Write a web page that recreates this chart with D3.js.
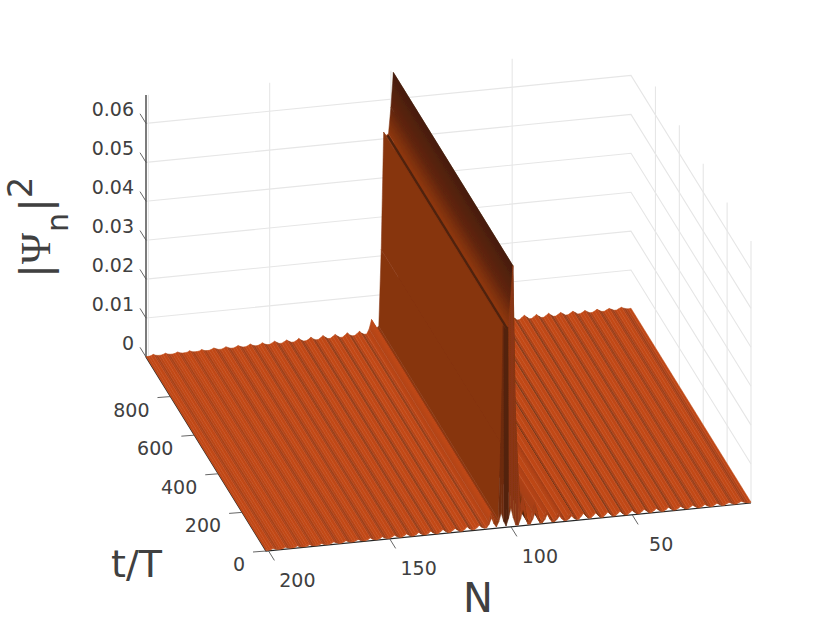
<!DOCTYPE html>
<html>
<head>
  <meta charset="utf-8">
  <title>Probability density surface</title>
  <script src="https://d3js.org/d3.v7.min.js"></script>
  <style>
    body { margin: 0; background: #fff; }
    text { font-family: "DejaVu Sans", sans-serif; fill: #404040; }
    .grid { stroke: #e6e6e6; stroke-width: 1.1px; fill: none; }
    .axis { stroke: #262626; stroke-width: 1.2px; fill: none; }
    .tick { stroke: #555; stroke-width: 0.9px; fill: none; }
  </style>
</head>
<body>
<script>
  const width = 830;
  const height = 623;

  const nTicks = [50, 100, 150, 200];
  const tTicks = [0, 200, 400, 600, 800];
  const zTicks = [0, 0.01, 0.02, 0.03, 0.04, 0.05, 0.06];
  const zTickLabels = ["0", "0.01", "0.02", "0.03", "0.04", "0.05", "0.06"];
  const nLimits = [1, 201];
  const tLimits = [0, 1005];
  const zLimits = [0, 0.0673];
  const firstStep = 4; // t of the row after the initial one
  const creaseSite = 101.4; // dark fold just behind the lower ridge

  // |psi_n|^2, one value per site N = 1..201
  const density = [
    .0002, .0001, .0002, .0004, .0007, .0004, .0001, .0001, .0004, .0007,
    .0004, .0001, .0001, .0004, .0008, .0004, .0001, .0001, .0004, .0008,
    .0004, .0001, .0001, .0005, .0009, .0005, .0001, .0001, .0005, .0009,
    .0005, .0001, .0001, .0005, .0010, .0005, .0001, .0001, .0005, .0010,
    .0005, .0001, .0001, .0006, .0011, .0006, .0001, .0001, .0006, .0011,
    .0006, .0001, .0001, .0006, .0012, .0006, .0001, .0001, .0007, .0013,
    .0007, .0001, .0001, .0007, .0014, .0008, .0002, .0002, .0008, .0016,
    .0009, .0002, .0002, .0010, .0019, .0011, .0002, .0002, .0012, .0025,
    .0014, .0003, .0003, .0017, .0032, .0019, .0004, .0004, .0030, .0055,
    .0032, .0006, .0006, .0045, .0075, .0050, .0150, .0300, .0668, .0580,
    .0512, .0508, .0517, .0216, .0020, .0016, .0026, .0039, .0015, .0003,
    .0003, .0006, .0012, .0006, .0002, .0002, .0005, .0011, .0005, .0001,
    .0001, .0005, .0010, .0005, .0001, .0001, .0005, .0010, .0005, .0001,
    .0001, .0004, .0009, .0004, .0001, .0001, .0004, .0009, .0004, .0001,
    .0001, .0004, .0008, .0004, .0001, .0001, .0004, .0008, .0004, .0001,
    .0001, .0003, .0007, .0003, .0001, .0001, .0003, .0007, .0003, .0001,
    .0001, .0003, .0006, .0003, .0001, .0001, .0003, .0006, .0003, .0001,
    .0001, .0003, .0006, .0003, .0001, .0001, .0002, .0005, .0002, .0001,
    .0001, .0002, .0005, .0002, .0001, .0001, .0002, .0005, .0002, .0001,
    .0001, .0002, .0005, .0002, .0001, .0001, .0002, .0005, .0002, .0001,
    .0001
  ];
  const sites = d3.range(1, 202);

  // initial row t = 0, where it differs from the later rows (N = 74..110)
  const initialFirstSite = 74;
  const initialDensity = [
    .0006, .0012, .0006, .0002, .0002, .0007, .0015, .0007, .0002, .0002,
    .0010, .0023, .0010, .0002, .0002, .0014, .0031, .0014, .0002, .0002,
    .0018, .0042, .0018, .0002, .0003, .0022, .0048, .0022, .0003, .0016,
    .0038, .0016, .0003, .0012, .0027, .0012, .0003
  ];

  const svg = d3.select("body")
    .append("svg")
    .attr("width", width)
    .attr("height", height);
  const defs = svg.append("defs");

  // the picture is a little soft, a slight blur keeps the stripes from looking etched
  defs.append("filter").attr("id", "soft")
    .attr("x", "-5%").attr("y", "-5%").attr("width", "110%").attr("height", "110%")
    .append("feGaussianBlur").attr("stdDeviation", 0.6);

  // orthographic view: front edge of the box plus shifts for t and z
  const frontX = d3.scaleLinear().domain(nLimits).range([751, 266]);
  const frontY = d3.scaleLinear().domain(nLimits).range([503, 551]);
  const depthX = d3.scaleLinear().domain(tLimits).range([0, -120]);
  const depthY = d3.scaleLinear().domain(tLimits).range([0, -194]);
  const rise = d3.scaleLinear().domain(zLimits).range([0, -262]);

  function project(n, t, z) {
    return [frontX(n) + depthX(t), frontY(n) + depthY(t) + rise(z)];
  }
  const line = pts => "M" + pts.map(p => p.join(",")).join("L");

  // grid on back wall and side wall
  const [nHigh, nLow] = [nLimits[1], nLimits[0]];
  const tBack = tLimits[1];
  const zTop = zLimits[1];
  const grid = svg.append("g").attr("class", "grid");
  zTicks.slice(1).forEach(z => {
    grid.append("path").attr("d", line([
      project(nHigh, tBack, z), project(nLow, tBack, z), project(nLow, 0, z)
    ]));
  });
  nTicks.forEach(n => {
    grid.append("path").attr("d", line([project(n, tBack, 0), project(n, tBack, zTop)]));
  });
  tTicks.forEach(t => {
    grid.append("path").attr("d", line([project(nLow, t, 0), project(nLow, t, zTop)]));
  });

  // axis lines and ticks
  const axes = svg.append("g");
  axes.append("path").attr("class", "axis")
    .attr("d", line([project(nHigh, tBack, zTop), project(nHigh, tBack, 0), project(nHigh, 0, 0), project(nLow, 0, 0)]));

  zTicks.forEach((z, i) => {
    const p = project(nHigh, tBack, z);
    const q = project(nHigh, tBack + 50, z);
    axes.append("path").attr("class", "tick").attr("d", line([p, q]));
    axes.append("text")
      .attr("x", p[0] - 12).attr("y", p[1] - 7)
      .attr("text-anchor", "end").attr("font-size", 19)
      .text(zTickLabels[i]);
  });
  tTicks.forEach(t => {
    const p = project(nHigh, t, 0);
    const q = [p[0] - 13, p[1] + 1];
    axes.append("path").attr("class", "tick").attr("d", line([p, q]));
    axes.append("text")
      .attr("x", p[0] - 21).attr("y", p[1] + 20)
      .attr("text-anchor", "end").attr("font-size", 19)
      .text(t);
  });
  nTicks.forEach(n => {
    const p = project(n, 0, 0);
    const q = project(n, -50, 0);
    axes.append("path").attr("class", "tick").attr("d", line([p, q]));
    axes.append("text")
      .attr("x", p[0] + 29).attr("y", p[1] + 36)
      .attr("text-anchor", "middle").attr("font-size", 19)
      .text(n);
  });

  // surface colour from the slope across N, as the lighting does it
  const shade = d3.scaleLinear()
    .domain([-.015, -.003, -.0011, -.0003, -.0001, 0, .0002, .002, .004])
    .range(["#74300f", "#552409", "#431c09", "#9a3c14", "#ad4114", "#bd4614", "#c44914", "#b04214", "#87340f"])
    .clamp(true);
  const dim = d3.scaleLinear().domain([.052, .058, .0668]).range([1, .72, .62]).clamp(true);

  function vertexColor(i) {
    const lower = density[Math.max(i - 1, 0)];
    const upper = density[Math.min(i + 1, density.length - 1)];
    const c = d3.rgb(shade((lower - upper) / 2));
    const k = dim(density[i]);
    return d3.rgb(c.r * k, c.g * k, c.b * k).formatHex();
  }

  // the jump from the initial row faces the viewer, its colour goes by site
  const curtain = d3.scaleLinear()
    .domain([74, 95, 97, 100, 101, 103.5, 104.5, 110])
    .range(["#b04214", "#a33e13", "#8a3612", "#8a3612", "#52220c", "#52220c", "#87340f", "#b04214"]);

  const initialAt = i => {
    const j = i + 1 - initialFirstSite;
    return j >= 0 && j < initialDensity.length ? initialDensity[j] : density[i];
  };

  // strips are painted far to near, the viewer sits on the high N side
  const len = Math.hypot(120, 194);
  const across = [194 / len, -120 / len];
  const surface = svg.append("g").attr("filter", "url(#soft)");

  function addStrip(id, a0, b0, a1, b1, c0, c1) {
    const d = (b0[0] - a0[0]) * across[0] + (b0[1] - a0[1]) * across[1];
    const g = defs.append("linearGradient").attr("id", id)
      .attr("gradientUnits", "userSpaceOnUse")
      .attr("x1", a0[0]).attr("y1", a0[1])
      .attr("x2", a0[0] + across[0] * d).attr("y2", a0[1] + across[1] * d);
    g.append("stop").attr("offset", 0).attr("stop-color", c0);
    g.append("stop").attr("offset", 1).attr("stop-color", c1);
    surface.append("path")
      .attr("d", line([a0, b0, b1, a1]) + "Z")
      .attr("fill", `url(#${id})`)
      .attr("stroke", `url(#${id})`)
      .attr("stroke-width", 0.5);
  }

  sites.slice(0, -1).forEach((n, i) => {
    addStrip("back" + n,
      project(n, firstStep, density[i]), project(n + 1, firstStep, density[i + 1]),
      project(n, tBack, density[i]), project(n + 1, tBack, density[i + 1]),
      vertexColor(i), vertexColor(i + 1));
  });

  const creaseZ = density[Math.floor(creaseSite)];
  surface.append("path")
    .attr("d", line([project(creaseSite, firstStep, creaseZ), project(creaseSite, tBack, creaseZ)]))
    .attr("fill", "none")
    .attr("stroke", "#4f220c")
    .attr("stroke-width", 2.4);

  sites.slice(0, -1).forEach((n, i) => {
    const jumps = n >= initialFirstSite && n < initialFirstSite + initialDensity.length - 1;
    addStrip("front" + n,
      project(n, 0, initialAt(i)), project(n + 1, 0, initialAt(i + 1)),
      project(n, firstStep, density[i]), project(n + 1, firstStep, density[i + 1]),
      jumps ? curtain(n) : vertexColor(i), jumps ? curtain(n + 1) : vertexColor(i + 1));
  });

  // axis titles
  const titles = svg.append("g");
  titles.append("text").attr("x", 111).attr("y", 577).attr("font-size", 38).text("t/T");
  titles.append("text").attr("x", 463).attr("y", 612).attr("font-size", 40).text("N");

  const rotated = (x, y, txt, size, family) => {
    const el = titles.append("text")
      .attr("transform", `translate(${x},${y}) rotate(-90)`)
      .attr("text-anchor", "middle")
      .attr("font-size", size)
      .text(txt);
    if (family) el.style("font-family", family);
  };
  rotated(49, 271, "|", 40);
  rotated(50, 248.5, "\u03A8", 42, "'Liberation Serif'");
  rotated(49, 205, "|", 40);
  rotated(68, 222.5, "n", 30);
  rotated(32, 187.5, "2", 34);
</script>
</body>
</html>
